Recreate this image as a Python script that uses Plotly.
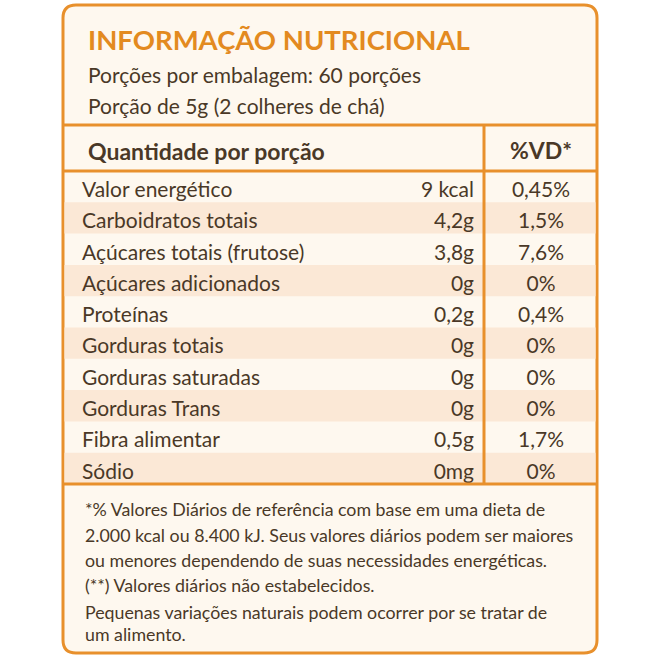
import plotly.graph_objects as go

title = "INFORMAÇÃO NUTRICIONAL"
sub_lines = ["Porções por embalagem: 60 porções", "Porção de 5g (2 colheres de chá)"]
head_left = "Quantidade por porção"
head_right = "%VD*"
nutrients = ["Valor energético", "Carboidratos totais", "Açúcares totais (frutose)",
             "Açúcares adicionados", "Proteínas", "Gorduras totais",
             "Gorduras saturadas", "Gorduras Trans", "Fibra alimentar", "Sódio"]
amounts = ["9 kcal", "4,2g", "3,8g", "0g", "0,2g", "0g", "0g", "0g", "0,5g", "0mg"]
vd = ["0,45%", "1,5%", "7,6%", "0%", "0,4%", "0%", "0%", "0%", "1,7%", "0%"]
foot_lines = ["*% Valores Diários de referência com base em uma dieta de",
              "2.000 kcal ou 8.400 kJ. Seus valores diários podem ser maiores",
              "ou menores dependendo de suas necessidades energéticas.",
              "(**) Valores diários não estabelecidos.",
              "Pequenas variações naturais podem ocorrer por se tratar de",
              "um alimento."]

ORANGE = "#E8902C"
TITLE_C = "#E38A20"
TEXT_C = "#4A3827"
BOX_FILL = "#FEF8EF"
SHADE = "#FBE8D6"
FONT = "Lato"

L, R, T, B = 63, 597, 5, 653
RAD = 13
COL_X = 484
HEAD_TOP, HEAD_BOT = 125, 171
ROW_H = 31.3
TABLE_BOT = HEAD_BOT + ROW_H * len(nutrients)

fig = go.Figure()
shapes = []
path = (f"M {L+RAD},{T} L {R-RAD},{T} Q {R},{T} {R},{T+RAD} L {R},{B-RAD} Q {R},{B} {R-RAD},{B} "
        f"L {L+RAD},{B} Q {L},{B} {L},{B-RAD} L {L},{T+RAD} Q {L},{T} {L+RAD},{T} Z")
shapes.append(dict(type="path", path=path, fillcolor=BOX_FILL, line=dict(color=ORANGE, width=3), layer="below"))
for i in range(len(nutrients)):
    if i % 2 == 1:
        y0 = HEAD_BOT + i * ROW_H
        shapes.append(dict(type="rect", x0=L + 1.5, x1=R - 1.5, y0=y0, y1=y0 + ROW_H,
                           fillcolor=SHADE, line=dict(width=0), layer="below"))
for yy in [HEAD_TOP, HEAD_BOT, TABLE_BOT]:
    shapes.append(dict(type="line", x0=L, x1=R, y0=yy, y1=yy, line=dict(color=ORANGE, width=3)))
shapes.append(dict(type="line", x0=COL_X, x1=COL_X, y0=HEAD_TOP, y1=TABLE_BOT, line=dict(color=ORANGE, width=3)))

ys = [HEAD_BOT + (i + 0.5) * ROW_H + 5 for i in range(len(nutrients))]
tf = dict(family=FONT, size=21, color=TEXT_C)
fig.add_trace(go.Scatter(x=[82] * len(nutrients), y=ys, text=nutrients, mode="text",
                         textposition="middle right", textfont=tf, hoverinfo="skip"))
fig.add_trace(go.Scatter(x=[474] * len(nutrients), y=ys, text=amounts, mode="text",
                         textposition="middle left", textfont=tf, hoverinfo="skip"))
fig.add_trace(go.Scatter(x=[541] * len(nutrients), y=ys, text=vd, mode="text",
                         textposition="middle center", textfont=tf, hoverinfo="skip"))

annots = []
annots.append(dict(x=86, y=39, text=f"<b>{title}</b>", xanchor="left", yanchor="middle", showarrow=False,
                   font=dict(family=FONT, size=27.5, color=TITLE_C)))
for k, s in enumerate(sub_lines):
    annots.append(dict(x=86, y=74 + k * 31, text=s, xanchor="left", yanchor="middle", showarrow=False,
                       font=dict(family=FONT, size=21, color=TEXT_C)))
annots.append(dict(x=86, y=(HEAD_TOP + HEAD_BOT) / 2 + 3, text=f"<b>{head_left}</b>", xanchor="left",
                   yanchor="middle", showarrow=False, font=dict(family=FONT, size=23, color=TEXT_C)))
annots.append(dict(x=541, y=(HEAD_TOP + HEAD_BOT) / 2 + 2, text=f"<b>{head_right}</b>", xanchor="center",
                   yanchor="middle", showarrow=False, font=dict(family=FONT, size=23, color=TEXT_C)))
foot_y = [509, 535, 560, 585, 612, 634]
for s, yy in zip(foot_lines, foot_y):
    annots.append(dict(x=83, y=yy, text=s, xanchor="left", yanchor="middle", showarrow=False,
                       font=dict(family=FONT, size=17.8, color=TEXT_C)))

fig.update_layout(width=660, height=660, margin=dict(l=0, r=0, t=0, b=0),
                  paper_bgcolor="white", plot_bgcolor="white", showlegend=False,
                  shapes=shapes, annotations=annots,
                  xaxis=dict(range=[0, 660], visible=False, fixedrange=True),
                  yaxis=dict(range=[660, 0], visible=False, fixedrange=True))
fig.write_html("out.html", config=dict(displayModeBar=False),
               post_script="document.body.style.margin='0';document.body.style.padding='0';")
